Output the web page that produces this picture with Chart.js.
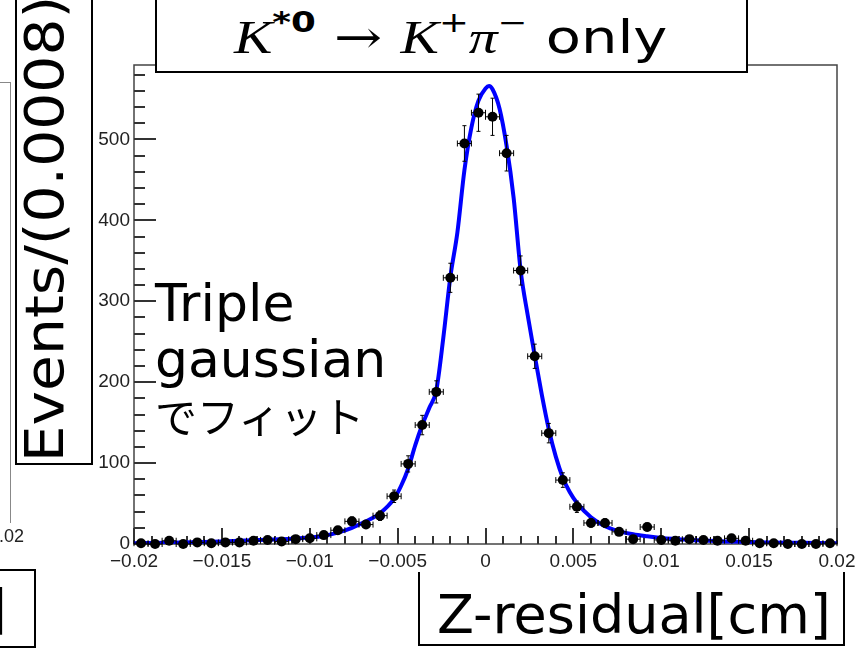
<!DOCTYPE html>
<html>
<head>
<meta charset="utf-8">
<script src="https://cdn.jsdelivr.net/npm/chart.js@4.4.1/dist/chart.umd.min.js"></script>
<style>
  body { margin: 0; width: 856px; height: 652px; overflow: hidden; background: #fff; position: relative; }
  canvas { position: absolute; left: 0; top: 0; }
  .txt { position: absolute; white-space: nowrap; line-height: 1; font-family: "DejaVu Sans", "Noto Sans CJK JP", sans-serif; color: #000; }
  .box { position: absolute; background: #fff; border: 2px solid #000; box-sizing: border-box; }
  .mi { font-family: "Liberation Serif", serif; font-style: italic; }
  .op { font-family: "DejaVu Serif", serif; }
  sup { font-size: 0.62em; vertical-align: 0.75em; line-height: 0; }
</style>
</head>
<body>
<canvas id="chart" width="856" height="652"></canvas>

<!-- bits of the neighbouring plot on the slide -->
<div style="position:absolute; left:-4px; top:82px; width:14px; height:440px; border-top:1px solid #888; border-right:1px solid #888;"></div>
<div class="txt" style="left:-11px; top:526px; font:18px 'Liberation Sans'; color:#222;">0.02</div>
<div class="box" style="left:-30px; top:569px; width:66px; height:79px;"></div>
<div class="txt" style="left:-14px; top:583px; font-size:53px;">]</div>

<div class="box" style="left:15px; top:-4px; width:78px; height:469px;"></div>
<div class="txt" style="left:44px; top:229px; font-size:53px; transform: translate(-50%,-50%) rotate(-90deg) scaleX(1.1);">Events/(0.0008)</div>

<div class="box" style="left:155px; top:-4px; width:593px; height:77px;"></div>
<div class="txt" style="left:234px; top:14px; font-size:46px; transform-origin:0 50%; transform:scaleX(1.25);"><span class="mi">K</span><sup><b>*0</b></sup><span class="op"> → </span><span class="mi">K</span><sup>+</sup><span class="mi">π</span><sup>−</sup> only</div>

<div class="txt" style="left:155px; top:275px; font-size:52px; line-height:56px;">Triple<br>gaussian<br><span style="font-size:42px;">でフィット</span></div>

<div class="box" style="left:418px; top:572px; width:427px; height:74px; border-top:none;"></div>
<div class="txt" style="left:437px; top:588px; font-size:54px;">Z-residual[cm]</div>

<script>
// bin width 0.0008 (Events/(0.0008))
const binWidth = 0.0008;
const binCenters = [
  -0.0196, -0.0188, -0.0180, -0.0172, -0.0164, -0.0156, -0.0148, -0.0140, -0.0132, -0.0124,
  -0.0116, -0.0108, -0.0100, -0.0092, -0.0084, -0.0076, -0.0068, -0.0060, -0.0052, -0.0044,
  -0.0036, -0.0028, -0.0020, -0.0012, -0.0004, 0.0004, 0.0012, 0.0020, 0.0028, 0.0036,
  0.0044, 0.0052, 0.0060, 0.0068, 0.0076, 0.0084, 0.0092, 0.0100, 0.0108, 0.0116,
  0.0124, 0.0132, 0.0140, 0.0148, 0.0156, 0.0164, 0.0172, 0.0180, 0.0188, 0.0196
];
const counts = [
  1, 0, 4, 0, 2, 1, 2, 2, 4, 5,
  3, 6, 7, 11, 17, 28, 24, 35, 59, 99,
  147, 188, 329, 495, 533, 528, 483, 338, 232, 137,
  79, 46, 26, 26, 15, 6, 21, 5, 4, 6,
  5, 4, 7, 4, 1, 1, 0, 0, 0, 1
];
const errors = [
  1, 0, 2, 0, 1.4, 1, 1.4, 1.4, 2, 2.2,
  1.7, 2.4, 2.6, 3.3, 4.1, 5.3, 4.9, 5.9, 7.7, 10,
  12, 13.7, 18, 22, 23, 23, 22, 18, 15, 12,
  9, 7, 5, 5, 4, 2.4, 4.6, 2.2, 2, 2.4,
  2.2, 2, 2.6, 2, 1, 1, 0, 0, 0, 1
];

// triple gaussian fit
const fitX = [
  -0.02, -0.018, -0.016, -0.014, -0.012, -0.011, -0.01, -0.0092, -0.0084, -0.0076,
  -0.0068, -0.006, -0.0052, -0.0048, -0.0044, -0.004, -0.0036, -0.0032, -0.0028, -0.0024,
  -0.002, -0.0016, -0.0012, -0.0008, -0.0004, 0, 0.0002, 0.0004, 0.0008, 0.0012,
  0.0016, 0.002, 0.0024, 0.0028, 0.0032, 0.0036, 0.004, 0.0044, 0.0048, 0.0052,
  0.006, 0.0068, 0.0076, 0.0084, 0.0092, 0.01, 0.011, 0.012, 0.014, 0.016,
  0.018, 0.02
];
const fitY = [
  1, 1.5, 2.5, 4, 5.5, 6.5, 8, 10, 14, 20,
  28, 38, 56, 72, 93, 122, 147, 168, 190, 255,
  330, 385, 462, 515, 548, 563, 566, 562, 538, 492,
  428, 338, 283, 233, 185, 142, 108, 82, 64, 51,
  33, 22, 16, 12, 9.5, 7.5, 6, 4.5, 3, 2,
  1.5, 1
];

const xTickValues = [-0.02, -0.015, -0.01, -0.005, 0, 0.005, 0.01, 0.015, 0.02];
const yTickValues = [0, 100, 200, 300, 400, 500];

const fmtX = v => {
  const s = String(parseFloat(Math.abs(v).toFixed(3)));
  return (v < -1e-9 ? '\u2212' : '') + s;
};

// ROOT style frame with inward ticks (major + minor)
function drawFrame(chart) {
  const c = chart.ctx;
  const a = chart.chartArea;
  const sx = chart.scales.x;
  const sy = chart.scales.y;
  c.save();
  c.strokeStyle = '#444';
  c.lineWidth = 1.5;
  c.strokeRect(Math.round(a.left), Math.round(a.top),
    Math.round(a.right - a.left), Math.round(a.bottom - a.top));

  c.strokeStyle = '#333';
  c.lineWidth = 2;
  c.beginPath();
  for (let k = -20; k <= 20; k++) {
    const tx = Math.round(sx.getPixelForValue(k / 1000));
    const tlen = (k % 5 === 0) ? 16 : 8;
    c.moveTo(tx, a.bottom);
    c.lineTo(tx, a.bottom - tlen);
  }
  for (let v = 0; v <= 580; v += 20) {
    const ty = Math.round(sy.getPixelForValue(v));
    const tlen = (v % 100 === 0) ? 22 : 11;
    c.moveTo(a.left, ty);
    c.lineTo(a.left + tlen, ty);
  }
  c.stroke();
  c.restore();
}

function drawErrors(chart) {
  const c = chart.ctx;
  const sx = chart.scales.x;
  const sy = chart.scales.y;
  c.save();
  c.strokeStyle = '#000';
  c.lineWidth = 1;
  c.beginPath();
  binCenters.forEach((cx, i) => {
    const px = sx.getPixelForValue(cx);
    const py = sy.getPixelForValue(counts[i]);
    const xl = sx.getPixelForValue(cx - binWidth / 2);
    const xr = sx.getPixelForValue(cx + binWidth / 2);
    c.moveTo(xl, py); c.lineTo(xr, py);
    c.moveTo(xl, py - 3); c.lineTo(xl, py + 3);
    c.moveTo(xr, py - 3); c.lineTo(xr, py + 3);
    if (errors[i] > 0) {
      const yt = sy.getPixelForValue(counts[i] + errors[i]);
      const yb = sy.getPixelForValue(counts[i] - errors[i]);
      c.moveTo(px, yt); c.lineTo(px, yb);
      c.moveTo(px - 2, yt); c.lineTo(px + 2, yt);
      c.moveTo(px - 2, yb); c.lineTo(px + 2, yb);
    }
  });
  c.stroke();
  c.restore();
}

const rootStyle = {
  id: 'rootStyle',
  beforeDatasetsDraw(chart) { drawFrame(chart); },
  afterDatasetsDraw(chart) { drawErrors(chart); }
};

const ctx = document.getElementById('chart').getContext('2d');
const chart = new Chart(ctx, {
  type: 'scatter',
  data: {
    datasets: [{
      type: 'line',
      data: fitX.map((v, i) => ({ x: v, y: fitY[i] })),
      borderColor: '#0000ff',
      borderWidth: 4,
      pointRadius: 0,
      cubicInterpolationMode: 'monotone',
      fill: false,
      order: 2
    }, {
      data: binCenters.map((v, i) => ({ x: v, y: counts[i] })),
      pointRadius: 5,
      backgroundColor: '#000',
      borderWidth: 0,
      clip: false,
      order: 1
    }]
  },
  options: {
    responsive: false,
    animation: false,
    devicePixelRatio: 1,
    layout: { padding: { top: 65, right: 19, left: 0, bottom: 0 } },
    plugins: { legend: { display: false }, tooltip: { enabled: false } },
    scales: {
      x: {
        type: 'linear',
        min: -0.02,
        max: 0.02,
        grid: { display: false, drawTicks: false },
        border: { display: false },
        afterBuildTicks: scale => { scale.ticks = xTickValues.map(v => ({ value: v })); },
        afterFit: scale => {
          scale.height = 108;
          scale.paddingLeft = 0;
          scale.paddingRight = 0;
        },
        ticks: {
          autoSkip: false,
          maxRotation: 0,
          padding: 6,
          color: '#222',
          font: { family: 'Liberation Sans', size: 19 },
          callback: v => fmtX(v)
        }
      },
      y: {
        min: 0,
        max: 592,
        grid: { display: false, drawTicks: false },
        border: { display: false },
        afterBuildTicks: scale => { scale.ticks = yTickValues.map(v => ({ value: v })); },
        afterFit: scale => { scale.width = 134; },
        ticks: {
          autoSkip: false,
          padding: 4,
          color: '#222',
          font: { family: 'Liberation Sans', size: 19 }
        }
      }
    }
  },
  plugins: [rootStyle]
});
</script>
</body>
</html>
